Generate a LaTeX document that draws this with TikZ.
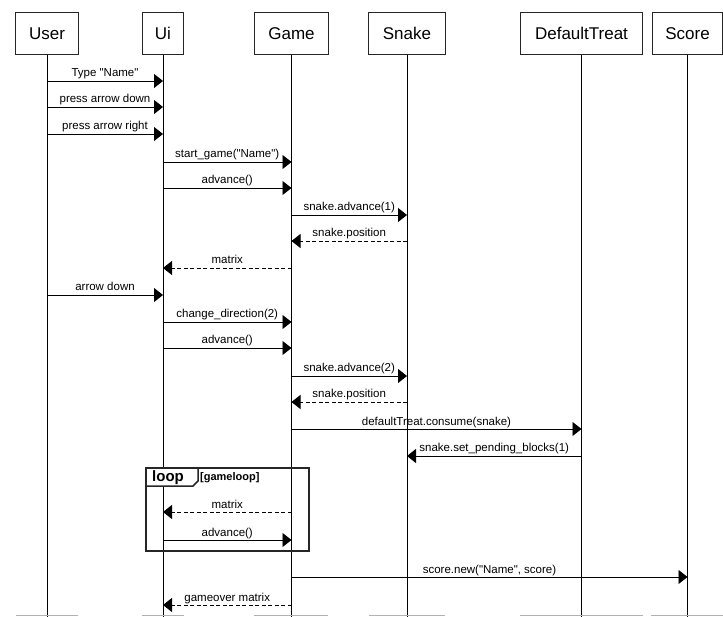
\documentclass[tikz,border=0pt]{standalone}
\usepackage{fontspec}
\setmainfont{Liberation Sans}[Ligatures=TeXOff]
\usetikzlibrary{arrows.meta}
\begin{document}
\begin{tikzpicture}[x=1pt,y=-1pt,
  head/.style={draw=black!85,line width=1pt,minimum height=42pt,inner sep=0pt,font=\fontsize{17}{20}\selectfont,anchor=north west},
  life/.style={draw=black,line width=0.9pt},
  msg/.style={draw=black,line width=0.9pt,-{Triangle[length=9pt,width=14pt]}},
  ret/.style={msg,dash pattern=on 4pt off 2.5pt},
  lbl/.style={midway,anchor=base,yshift=4pt,inner sep=0pt,font=\fontsize{11.5}{13}\selectfont},
  foot/.style={draw=black!30,line width=1pt}]
\useasboundingbox (0,0) rectangle (723,617);
% heads
\node[head,minimum width=63pt] (user) at (15,12) {User};
\node[head,minimum width=41pt] (ui) at (142,12) {Ui};
\node[head,minimum width=74pt] (game) at (254,12) {Game};
\node[head,minimum width=77pt] (snake) at (368,12) {Snake};
\node[head,minimum width=122pt] (treat) at (520,12) {DefaultTreat};
\node[head,minimum width=70pt] (score) at (652,12) {Score};
% lifelines
\foreach \n in {user,ui,game,snake,treat,score}{
  \draw[life] (\n.south) -- (\n.south |- 0,617);
}
% footer tops
\foreach \n/\a/\b in {user/16/78,ui/142/184,game/254/328,snake/369/445,treat/520/643,score/651/723}{
  \draw[foot] (\a,615.5) -- (\b,615.5);
}
% messages
\draw[msg] (user.south |- 0,81) -- node[lbl]{Type "Name"} (ui.south |- 0,81);
\draw[msg] (user.south |- 0,107) -- node[lbl]{press arrow down} (ui.south |- 0,107);
\draw[msg] (user.south |- 0,134) -- node[lbl]{press arrow right} (ui.south |- 0,134);
\draw[msg] (ui.south |- 0,162) -- node[lbl]{start\_game("Name")} (game.south |- 0,162);
\draw[msg] (ui.south |- 0,188) -- node[lbl]{advance()} (game.south |- 0,188);
\draw[msg] (game.south |- 0,215) -- node[lbl]{snake.advance(1)} (snake.south |- 0,215);
\draw[ret] (snake.south |- 0,241) -- node[lbl]{snake.position} (game.south |- 0,241);
\draw[ret] (game.south |- 0,268) -- node[lbl]{matrix} (ui.south |- 0,268);
\draw[msg] (user.south |- 0,295) -- node[lbl]{arrow down} (ui.south |- 0,295);
\draw[msg] (ui.south |- 0,322) -- node[lbl]{change\_direction(2)} (game.south |- 0,322);
\draw[msg] (ui.south |- 0,348) -- node[lbl]{advance()} (game.south |- 0,348);
\draw[msg] (game.south |- 0,376) -- node[lbl]{snake.advance(2)} (snake.south |- 0,376);
\draw[ret] (snake.south |- 0,402) -- node[lbl]{snake.position} (game.south |- 0,402);
\draw[msg] (game.south |- 0,429) -- node[lbl]{defaultTreat.consume(snake)} (treat.south |- 0,429);
\draw[msg] (treat.south |- 0,456) -- node[lbl]{snake.set\_pending\_blocks(1)} (snake.south |- 0,456);
% loop frame
\draw[draw=black!85,line width=2pt] (146,468) rectangle (309,551);
\draw[draw=black!85,line width=1.5pt,fill=white] (146,468) -- (198,468) -- (198,481) -- (193,486) -- (146,486) -- cycle;
\node[font=\bfseries\fontsize{15}{16}\selectfont,inner sep=0pt,anchor=base west] (looplbl) at (152,482) {loop};
\node[font=\bfseries\fontsize{11}{12}\selectfont,inner sep=0pt,anchor=base west] (guard) at (200,480) {[gameloop]};
\draw[ret] (game.south |- 0,512) -- node[lbl]{matrix} (ui.south |- 0,512);
\draw[msg] (ui.south |- 0,540) -- node[lbl]{advance()} (game.south |- 0,540);
\draw[msg] (game.south |- 0,577) -- node[lbl]{score.new("Name", score)} (score.south |- 0,577);
\draw[ret] (game.south |- 0,605) -- node[lbl]{gameover matrix} (ui.south |- 0,605);
\end{tikzpicture}
\end{document}
